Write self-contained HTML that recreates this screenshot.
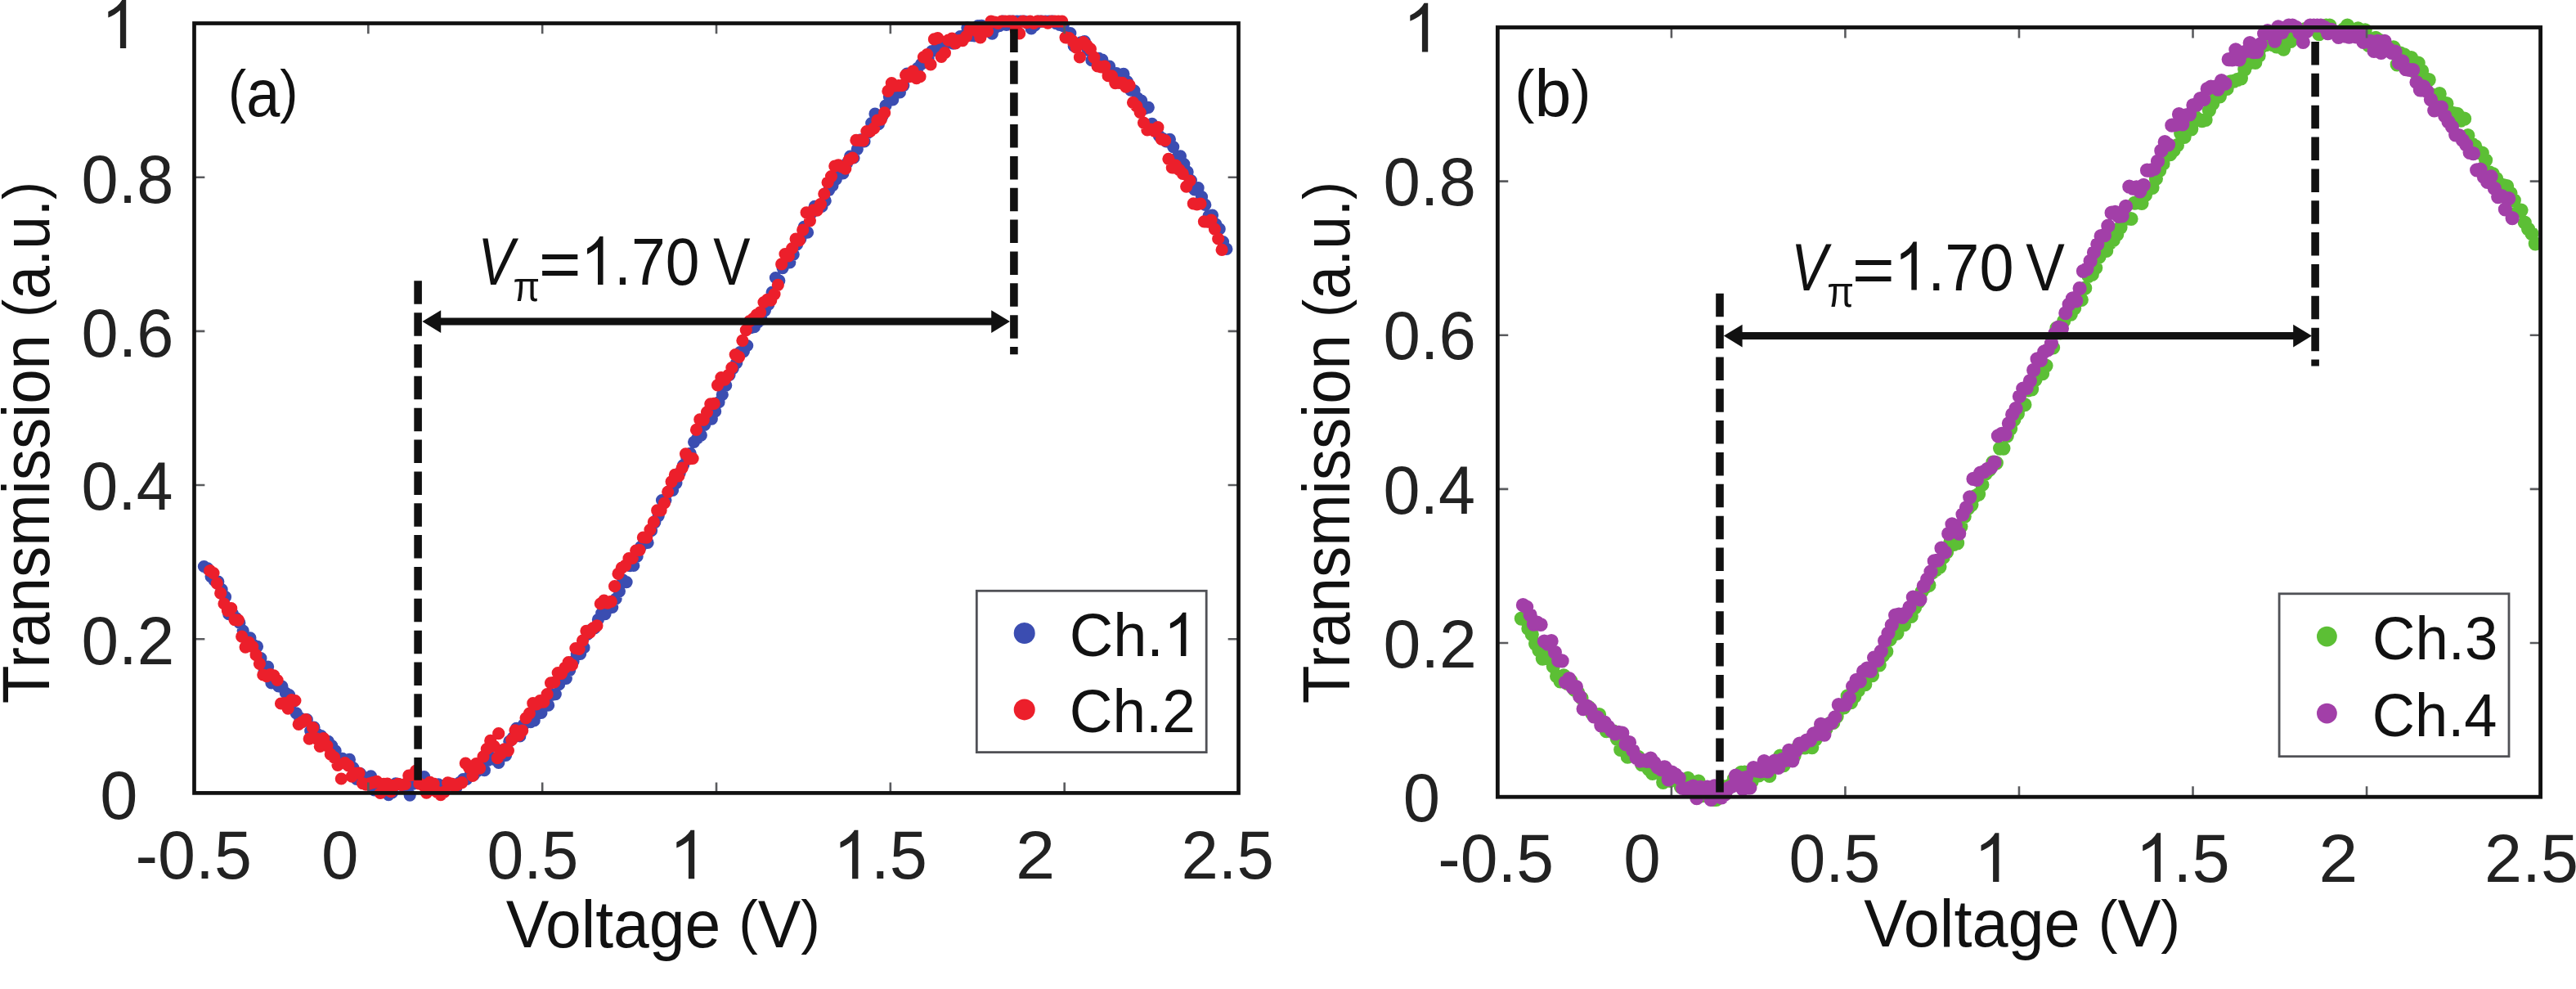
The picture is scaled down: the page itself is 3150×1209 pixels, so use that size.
<!DOCTYPE html>
<html lang="en"><head><meta charset="utf-8"><title>Transmission vs Voltage</title>
<style>html,body{margin:0;padding:0;background:#fff;}svg{display:block;}</style></head>
<body>
<svg width="3150" height="1209" viewBox="0 0 3150 1209" font-family="'Liberation Sans', sans-serif">
<rect width="3150" height="1209" fill="#ffffff"/>
<path d="M249.4 692.5h0M253.8 694.9h0M258.1 704.8h0M262.4 709.7h0M266.8 711.1h0M271.1 720.7h0M275.5 729.7h0M279.8 750.7h0M284.2 749.9h0M288.5 755.4h0M292.8 761.2h0M297.2 771.0h0M301.5 780.6h0M305.9 779.9h0M310.2 788.5h0M314.5 790.3h0M318.9 804.7h0M323.2 820.6h0M327.6 815.1h0M331.9 834.8h0M336.3 830.9h0M340.6 838.8h0M344.9 839.1h0M349.3 847.0h0M353.6 849.7h0M358.0 858.2h0M362.3 871.8h0M366.6 877.5h0M371.0 880.3h0M375.3 879.7h0M379.7 893.6h0M384.0 889.2h0M388.4 897.6h0M392.7 899.5h0M397.0 904.9h0M401.4 906.3h0M405.7 911.7h0M410.1 917.9h0M414.4 930.1h0M418.7 927.3h0M423.1 933.4h0M427.4 928.4h0M431.8 938.5h0M436.1 952.4h0M440.5 945.5h0M444.8 950.0h0M449.1 958.2h0M453.5 948.9h0M457.8 965.9h0M462.2 958.9h0M466.5 959.6h0M470.9 958.6h0M475.2 971.6h0M479.5 968.8h0M483.9 957.8h0M488.2 958.9h0M492.6 960.4h0M496.9 964.5h0M501.2 972.1h0M505.6 958.1h0M509.9 956.2h0M514.3 957.2h0M518.6 949.5h0M523.0 959.8h0M527.3 959.2h0M531.6 959.2h0M536.0 958.8h0M540.3 965.1h0M544.7 960.2h0M549.0 959.4h0M553.3 958.5h0M557.7 963.5h0M562.0 956.6h0M566.4 952.6h0M570.7 952.5h0M575.1 947.0h0M579.4 947.1h0M583.7 942.6h0M588.1 934.7h0M592.4 941.7h0M596.8 929.3h0M601.1 926.4h0M605.4 928.6h0M609.8 932.5h0M614.1 917.1h0M618.5 923.4h0M622.8 906.3h0M627.2 901.9h0M631.5 890.4h0M635.8 899.9h0M640.2 886.2h0M644.5 880.5h0M648.9 882.7h0M653.2 880.9h0M657.5 872.3h0M661.9 871.5h0M666.2 862.2h0M670.6 862.2h0M674.9 849.5h0M679.3 848.6h0M683.6 836.7h0M687.9 830.2h0M692.3 829.5h0M696.6 819.4h0M701.0 808.6h0M705.3 799.3h0M709.6 799.4h0M714.0 791.7h0M718.3 775.4h0M722.7 769.9h0M727.0 767.8h0M731.4 757.4h0M735.7 749.6h0M740.0 750.6h0M744.4 740.5h0M748.7 742.5h0M753.1 732.0h0M757.4 722.8h0M761.8 709.2h0M766.1 711.6h0M770.4 691.6h0M774.8 691.4h0M779.1 680.2h0M783.5 668.5h0M787.8 661.0h0M792.1 663.4h0M796.5 648.7h0M800.8 638.6h0M805.2 630.6h0M809.5 611.5h0M813.9 611.3h0M818.2 600.7h0M822.5 599.5h0M826.9 590.6h0M831.2 578.1h0M835.6 568.5h0M839.9 559.9h0M844.2 554.3h0M848.6 540.3h0M852.9 535.7h0M857.3 532.1h0M861.6 519.4h0M866.0 510.7h0M870.3 512.1h0M874.6 502.9h0M879.0 491.7h0M883.3 482.4h0M887.7 471.1h0M892.0 458.3h0M896.3 450.3h0M900.7 443.6h0M905.0 430.5h0M909.4 429.6h0M913.7 422.5h0M918.1 400.6h0M922.4 399.7h0M926.7 393.8h0M931.1 390.4h0M935.4 379.6h0M939.8 372.1h0M944.1 357.3h0M948.4 339.5h0M952.8 343.1h0M957.1 327.6h0M961.5 321.7h0M965.8 320.8h0M970.2 311.1h0M974.5 298.9h0M978.8 291.9h0M983.2 277.4h0M987.5 284.2h0M991.9 260.7h0M996.2 252.3h0M1000.6 251.9h0M1004.9 252.5h0M1009.2 245.4h0M1013.6 232.4h0M1017.9 226.9h0M1022.3 219.1h0M1026.6 210.8h0M1030.9 211.8h0M1035.3 200.2h0M1039.6 191.2h0M1044.0 193.0h0M1048.3 182.3h0M1052.7 170.8h0M1057.0 172.9h0M1061.3 162.3h0M1065.7 150.5h0M1070.0 139.2h0M1074.4 151.7h0M1078.7 142.6h0M1083.0 129.0h0M1087.4 118.2h0M1091.7 121.8h0M1096.1 109.7h0M1100.4 113.0h0M1104.8 104.6h0M1109.1 90.2h0M1113.4 91.1h0M1117.8 92.6h0M1122.1 83.4h0M1126.5 78.4h0M1130.8 71.2h0M1135.1 71.4h0M1139.5 62.7h0M1143.8 60.8h0M1148.2 52.4h0M1152.5 52.9h0M1156.9 53.2h0M1161.2 50.0h0M1165.5 53.1h0M1169.9 51.1h0M1174.2 44.5h0M1178.6 43.9h0M1182.9 33.9h0M1187.2 43.3h0M1191.6 43.9h0M1195.9 31.6h0M1200.3 31.3h0M1204.6 33.4h0M1209.0 31.9h0M1213.3 41.1h0M1217.6 33.4h0M1222.0 31.7h0M1226.3 26.1h0M1230.7 30.4h0M1235.0 26.1h0M1239.3 26.1h0M1243.7 26.1h0M1248.0 26.1h0M1252.4 26.1h0M1256.7 28.3h0M1261.1 34.8h0M1265.4 31.0h0M1269.7 26.1h0M1274.1 26.1h0M1278.4 26.1h0M1282.8 26.1h0M1287.1 26.1h0M1291.5 28.6h0M1295.8 30.5h0M1300.1 31.6h0M1304.5 45.1h0M1308.8 40.5h0M1313.2 56.2h0M1317.5 53.6h0M1321.8 51.9h0M1326.2 50.5h0M1330.5 61.5h0M1334.9 73.7h0M1339.2 72.0h0M1343.6 71.3h0M1347.9 73.2h0M1352.2 82.0h0M1356.6 81.1h0M1360.9 91.3h0M1365.3 89.6h0M1369.6 101.1h0M1373.9 90.4h0M1378.3 99.5h0M1382.6 110.2h0M1387.0 110.8h0M1391.3 120.0h0M1395.7 123.0h0M1400.0 132.7h0M1404.3 131.3h0M1408.7 151.3h0M1413.0 159.5h0M1417.4 166.1h0M1421.7 169.4h0M1426.0 172.8h0M1430.4 170.3h0M1434.7 179.6h0M1439.1 193.1h0M1443.4 190.8h0M1447.8 200.6h0M1452.1 210.2h0M1456.4 220.6h0M1460.8 232.0h0M1465.1 229.7h0M1469.5 240.7h0M1473.8 250.4h0M1478.1 263.9h0M1482.5 263.1h0M1486.8 274.0h0M1491.2 279.9h0M1495.5 295.5h0M1499.9 304.4h0" stroke="#3b4db1" stroke-width="15.2" stroke-linecap="round" fill="none"/>
<path d="M256.7 697.7h0M261.0 700.6h0M265.3 713.2h0M269.7 725.2h0M274.0 738.0h0M278.4 746.6h0M282.7 743.7h0M287.0 757.6h0M291.4 758.2h0M295.7 778.2h0M300.1 791.1h0M304.4 785.4h0M308.8 790.6h0M313.1 800.7h0M317.4 811.3h0M321.8 825.0h0M326.1 826.7h0M330.5 824.5h0M334.8 825.9h0M339.1 831.5h0M343.5 860.0h0M347.8 859.5h0M352.2 866.1h0M356.5 855.7h0M360.9 856.5h0M365.2 885.4h0M369.5 882.6h0M373.9 879.5h0M378.2 903.2h0M382.6 889.7h0M386.9 902.9h0M391.3 912.4h0M395.6 902.6h0M399.9 911.7h0M404.3 922.2h0M408.6 925.8h0M413.0 935.3h0M417.3 952.0h0M421.6 932.7h0M426.0 935.8h0M430.3 949.1h0M434.7 945.3h0M439.0 945.1h0M443.4 957.6h0M447.7 959.2h0M452.0 957.8h0M456.4 956.7h0M460.7 955.4h0M465.1 969.5h0M469.4 958.4h0M473.7 958.2h0M478.1 967.6h0M482.4 960.2h0M486.8 958.3h0M491.1 959.5h0M495.5 958.7h0M499.8 948.0h0M504.1 947.4h0M508.5 942.3h0M512.8 958.0h0M517.2 959.8h0M521.5 969.2h0M525.8 956.4h0M530.2 958.0h0M534.5 968.2h0M538.9 971.7h0M543.2 968.2h0M547.6 956.9h0M551.9 958.0h0M556.2 961.5h0M560.6 958.6h0M564.9 956.6h0M569.3 933.1h0M573.6 938.5h0M577.9 948.5h0M582.3 933.6h0M586.6 939.1h0M591.0 924.9h0M595.3 915.7h0M599.7 905.4h0M604.0 912.2h0M608.3 926.7h0M612.7 921.4h0M617.0 915.9h0M621.4 917.6h0M625.7 904.5h0M630.0 892.8h0M634.4 899.0h0M638.7 893.1h0M643.1 877.8h0M647.4 872.1h0M651.8 859.7h0M656.1 860.9h0M660.4 856.7h0M664.8 858.2h0M669.1 848.7h0M673.5 834.8h0M677.8 834.0h0M682.2 822.5h0M686.5 823.4h0M690.8 816.3h0M695.2 809.7h0M699.5 812.9h0M703.9 792.5h0M708.2 793.3h0M712.5 783.2h0M716.9 771.3h0M721.2 773.2h0M725.6 767.6h0M729.9 764.9h0M734.3 738.0h0M738.6 734.1h0M742.9 737.1h0M747.3 735.3h0M751.6 716.7h0M756.0 701.4h0M760.3 694.1h0M764.6 691.3h0M769.0 682.7h0M773.3 682.4h0M777.7 673.0h0M782.0 672.4h0M786.4 657.0h0M790.7 657.1h0M795.0 647.6h0M799.4 638.2h0M803.7 623.9h0M808.1 623.8h0M812.4 615.0h0M816.7 601.3h0M821.1 588.8h0M825.4 580.4h0M829.8 582.0h0M834.1 572.1h0M838.5 554.8h0M842.8 561.0h0M847.1 560.5h0M851.5 525.4h0M855.8 512.8h0M860.2 513.5h0M864.5 503.8h0M868.8 493.8h0M873.2 493.4h0M877.5 470.8h0M881.9 461.5h0M886.2 464.2h0M890.6 458.6h0M894.9 449.7h0M899.2 433.6h0M903.6 436.3h0M907.9 416.3h0M912.3 403.6h0M916.6 392.7h0M921.0 389.6h0M925.3 384.8h0M929.6 381.8h0M934.0 369.5h0M938.3 366.3h0M942.7 367.2h0M947.0 359.6h0M951.3 348.4h0M955.7 322.9h0M960.0 310.5h0M964.4 313.0h0M968.7 303.5h0M973.1 292.1h0M977.4 293.9h0M981.7 281.2h0M986.1 259.8h0M990.4 269.8h0M994.8 256.9h0M999.1 257.2h0M1003.4 249.6h0M1007.8 237.0h0M1012.1 223.0h0M1016.5 215.6h0M1020.8 203.0h0M1025.2 201.8h0M1029.5 204.0h0M1033.8 206.2h0M1038.2 195.5h0M1042.5 193.0h0M1046.9 171.4h0M1051.2 171.7h0M1055.5 171.8h0M1059.9 160.5h0M1064.2 160.5h0M1068.6 156.8h0M1072.9 147.2h0M1077.3 146.1h0M1081.6 137.9h0M1085.9 111.4h0M1090.3 101.5h0M1094.6 104.8h0M1099.0 104.6h0M1103.3 104.3h0M1107.6 91.9h0M1112.0 93.7h0M1116.3 87.1h0M1120.7 95.7h0M1125.0 93.7h0M1129.4 69.8h0M1133.7 66.5h0M1138.0 78.9h0M1142.4 47.9h0M1146.7 46.5h0M1151.1 69.4h0M1155.4 64.7h0M1159.7 49.1h0M1164.1 47.0h0M1168.4 52.8h0M1172.8 49.5h0M1177.1 49.6h0M1181.5 44.7h0M1185.8 36.3h0M1190.1 35.8h0M1194.5 38.2h0M1198.8 46.0h0M1203.2 34.3h0M1207.5 38.1h0M1211.9 26.1h0M1216.2 27.0h0M1220.5 28.5h0M1224.9 26.1h0M1229.2 26.1h0M1233.6 26.1h0M1237.9 26.1h0M1242.2 36.9h0M1246.6 40.9h0M1250.9 26.1h0M1255.3 27.6h0M1259.6 26.1h0M1264.0 28.4h0M1268.3 26.1h0M1272.6 26.1h0M1277.0 26.5h0M1281.3 28.1h0M1285.7 26.1h0M1290.0 26.1h0M1294.3 26.1h0M1298.7 26.1h0M1303.0 45.8h0M1307.4 46.5h0M1311.7 50.3h0M1316.1 58.1h0M1320.4 69.9h0M1324.7 51.6h0M1329.1 55.7h0M1333.4 59.9h0M1337.8 70.1h0M1342.1 80.9h0M1346.4 81.8h0M1350.8 81.2h0M1355.1 92.7h0M1359.5 92.9h0M1363.8 101.6h0M1368.2 101.2h0M1372.5 101.4h0M1376.8 106.2h0M1381.2 104.3h0M1385.5 125.3h0M1389.9 129.8h0M1394.2 137.5h0M1398.5 150.1h0M1402.9 159.0h0M1407.2 158.2h0M1411.6 160.1h0M1415.9 155.7h0M1420.3 170.2h0M1424.6 171.7h0M1428.9 194.3h0M1433.3 204.9h0M1437.6 202.2h0M1442.0 207.6h0M1446.3 212.4h0M1450.7 228.1h0M1455.0 221.0h0M1459.3 248.8h0M1463.7 249.8h0M1468.0 249.0h0M1472.4 270.8h0M1476.7 271.2h0M1481.0 269.1h0M1485.4 280.1h0M1489.7 291.9h0M1494.1 305.4h0M609.7 896.7h0" stroke="#ec1f2b" stroke-width="15.2" stroke-linecap="round" fill="none"/>
<path d="M1860.3 756.1h0M1864.6 756.4h0M1868.9 768.4h0M1873.3 775.5h0M1877.6 787.1h0M1881.9 794.8h0M1886.3 805.1h0M1890.6 795.7h0M1894.9 803.0h0M1899.3 814.6h0M1903.6 826.7h0M1908.0 832.8h0M1912.3 825.8h0M1916.6 835.5h0M1921.0 832.6h0M1925.3 843.2h0M1929.6 846.7h0M1934.0 853.3h0M1938.3 862.9h0M1942.6 864.4h0M1947.0 872.5h0M1951.3 873.6h0M1955.6 873.6h0M1960.0 887.1h0M1964.3 893.6h0M1968.7 893.2h0M1973.0 893.8h0M1977.3 903.1h0M1981.7 916.3h0M1986.0 914.0h0M1990.3 925.2h0M1994.7 923.6h0M1999.0 924.1h0M2003.3 925.3h0M2007.7 934.6h0M2012.0 934.9h0M2016.3 940.3h0M2020.7 945.5h0M2025.0 944.2h0M2029.4 944.1h0M2033.7 956.3h0M2038.0 953.8h0M2042.4 954.3h0M2046.7 948.0h0M2051.0 954.2h0M2055.4 962.0h0M2059.7 953.4h0M2064.0 951.3h0M2068.4 965.4h0M2072.7 966.7h0M2077.0 955.1h0M2081.4 972.7h0M2085.7 966.1h0M2090.1 967.0h0M2094.4 977.5h0M2098.7 977.5h0M2103.1 973.3h0M2107.4 961.5h0M2111.7 964.8h0M2116.1 959.5h0M2120.4 952.2h0M2124.7 956.9h0M2129.1 944.4h0M2133.4 944.1h0M2137.8 951.9h0M2142.1 955.3h0M2146.4 944.2h0M2150.8 947.9h0M2155.1 943.3h0M2159.4 941.5h0M2163.8 948.4h0M2168.1 935.0h0M2172.4 934.6h0M2176.8 924.2h0M2181.1 935.6h0M2185.4 923.0h0M2189.8 922.3h0M2194.1 923.9h0M2198.5 913.7h0M2202.8 913.7h0M2207.1 913.8h0M2211.5 906.9h0M2215.8 913.6h0M2220.1 904.0h0M2224.5 893.5h0M2228.8 893.2h0M2233.1 890.8h0M2237.5 884.3h0M2241.8 883.3h0M2246.1 875.9h0M2250.5 864.2h0M2254.8 864.8h0M2259.2 850.9h0M2263.5 858.6h0M2267.8 851.3h0M2272.2 844.2h0M2276.5 837.0h0M2280.8 836.6h0M2285.2 825.2h0M2289.5 825.6h0M2293.8 810.6h0M2298.2 813.0h0M2302.5 801.4h0M2306.8 796.3h0M2311.2 781.7h0M2315.5 775.9h0M2319.9 774.1h0M2324.2 762.7h0M2328.5 763.6h0M2332.9 754.6h0M2337.2 753.3h0M2341.5 742.9h0M2345.9 735.8h0M2350.2 723.0h0M2354.5 717.6h0M2358.9 715.3h0M2363.2 699.6h0M2367.6 696.5h0M2371.9 693.1h0M2376.2 681.5h0M2380.6 675.0h0M2384.9 662.7h0M2389.2 665.5h0M2393.6 663.9h0M2397.9 643.6h0M2402.2 631.3h0M2406.6 621.5h0M2410.9 617.1h0M2415.2 606.5h0M2419.6 604.1h0M2423.9 592.5h0M2428.3 578.8h0M2432.6 574.5h0M2436.9 565.0h0M2441.3 565.9h0M2445.6 548.1h0M2449.9 548.1h0M2454.3 532.8h0M2458.6 524.1h0M2462.9 513.1h0M2467.3 505.8h0M2471.6 496.3h0M2475.9 494.7h0M2480.3 476.9h0M2484.6 475.8h0M2489.0 464.1h0M2493.3 455.6h0M2497.6 456.7h0M2502.0 447.1h0M2506.3 425.8h0M2510.6 425.0h0M2515.0 401.1h0M2519.3 406.9h0M2523.6 392.5h0M2528.0 384.6h0M2532.3 384.1h0M2536.6 376.9h0M2541.0 366.4h0M2545.3 366.5h0M2549.7 352.2h0M2554.0 337.3h0M2558.3 335.4h0M2562.7 327.3h0M2567.0 313.9h0M2571.3 303.3h0M2575.7 306.4h0M2580.0 297.1h0M2584.3 293.3h0M2588.7 286.6h0M2593.0 278.1h0M2597.4 266.7h0M2601.7 267.0h0M2606.0 267.5h0M2610.4 248.1h0M2614.7 246.9h0M2619.0 248.5h0M2623.4 238.4h0M2627.7 231.2h0M2632.0 229.3h0M2636.4 218.4h0M2640.7 208.3h0M2645.0 200.2h0M2649.4 189.2h0M2653.7 188.7h0M2658.1 183.6h0M2662.4 177.7h0M2666.7 163.1h0M2671.1 167.3h0M2675.4 155.8h0M2679.7 157.8h0M2684.1 142.9h0M2688.4 146.2h0M2692.7 147.6h0M2697.1 146.4h0M2701.4 135.0h0M2705.7 126.6h0M2710.1 114.8h0M2714.4 117.8h0M2718.8 100.4h0M2723.1 108.4h0M2727.4 99.9h0M2731.8 99.1h0M2736.1 97.3h0M2740.4 95.8h0M2744.8 84.8h0M2749.1 77.7h0M2753.4 75.5h0M2757.8 76.4h0M2762.1 68.2h0M2766.4 56.4h0M2770.8 54.7h0M2775.1 48.8h0M2779.5 54.7h0M2783.8 56.8h0M2788.1 54.6h0M2792.5 60.1h0M2796.8 47.0h0M2801.1 50.5h0M2805.5 38.8h0M2809.8 38.2h0M2814.1 44.9h0M2818.5 35.7h0M2822.8 35.9h0M2827.2 34.1h0M2831.5 36.2h0M2835.8 41.7h0M2840.2 33.8h0M2844.5 31.1h0M2848.8 31.1h0M2853.2 38.3h0M2857.5 39.8h0M2861.8 38.8h0M2866.2 35.7h0M2870.5 31.1h0M2874.8 40.9h0M2879.2 38.8h0M2883.5 34.9h0M2887.9 39.0h0M2892.2 36.9h0M2896.5 55.3h0M2900.9 49.6h0M2905.2 46.3h0M2909.5 49.1h0M2913.9 52.1h0M2918.2 56.6h0M2922.5 59.0h0M2926.9 57.9h0M2931.2 78.9h0M2935.5 65.2h0M2939.9 66.9h0M2944.2 80.2h0M2948.6 70.5h0M2952.9 87.8h0M2957.2 77.0h0M2961.6 86.7h0M2965.9 99.4h0M2970.2 97.6h0M2974.6 116.2h0M2978.9 117.9h0M2983.2 114.7h0M2987.6 135.0h0M2991.9 126.7h0M2996.2 137.4h0M3000.6 138.5h0M3004.9 139.3h0M3009.3 147.1h0M3013.6 145.2h0M3017.9 165.7h0M3022.3 175.7h0M3026.6 178.5h0M3030.9 186.4h0M3035.3 187.2h0M3039.6 195.8h0M3043.9 210.5h0M3048.3 212.6h0M3052.6 218.3h0M3057.0 227.1h0M3061.3 226.7h0M3065.6 227.5h0M3070.0 236.3h0M3074.3 244.9h0M3078.6 258.0h0M3083.0 257.1h0M3087.3 272.0h0M3091.6 280.0h0M3096.0 285.7h0M3100.3 297.9h0" stroke="#5cbf35" stroke-width="17.2" stroke-linecap="round" fill="none"/>
<path d="M1862.4 739.7h0M1866.7 742.1h0M1871.1 751.7h0M1875.4 763.1h0M1879.7 761.2h0M1884.1 763.5h0M1888.4 784.0h0M1892.7 787.2h0M1897.1 783.7h0M1901.4 797.3h0M1905.7 807.3h0M1910.1 807.9h0M1914.4 833.8h0M1918.7 829.5h0M1923.1 840.3h0M1927.4 839.5h0M1931.8 851.4h0M1936.1 866.6h0M1940.4 863.0h0M1944.8 866.5h0M1949.1 875.8h0M1953.4 876.9h0M1957.8 886.8h0M1962.1 883.1h0M1966.4 888.4h0M1970.8 893.3h0M1975.1 897.0h0M1979.4 895.3h0M1983.8 896.2h0M1988.1 909.7h0M1992.5 907.7h0M1996.8 917.7h0M2001.1 926.5h0M2005.5 930.2h0M2009.8 929.5h0M2014.1 930.5h0M2018.5 927.1h0M2022.8 932.3h0M2027.1 938.0h0M2031.5 940.7h0M2035.8 937.8h0M2040.2 953.0h0M2044.5 944.2h0M2048.8 946.8h0M2053.2 951.2h0M2057.5 963.4h0M2061.8 964.6h0M2066.2 963.0h0M2070.5 961.1h0M2074.8 975.6h0M2079.2 962.4h0M2083.5 964.2h0M2087.8 962.1h0M2092.2 977.5h0M2096.5 960.8h0M2100.9 964.8h0M2105.2 975.0h0M2109.5 971.0h0M2113.9 963.4h0M2118.2 961.0h0M2122.5 948.2h0M2126.9 950.5h0M2131.2 964.6h0M2135.5 950.3h0M2139.9 963.0h0M2144.2 938.7h0M2148.5 942.1h0M2152.9 942.8h0M2157.2 930.6h0M2161.6 943.0h0M2165.9 937.8h0M2170.2 930.0h0M2174.6 938.5h0M2178.9 928.7h0M2183.2 929.5h0M2187.6 917.3h0M2191.9 929.8h0M2196.2 917.7h0M2200.6 909.0h0M2204.9 910.5h0M2209.2 905.1h0M2213.6 904.9h0M2217.9 896.8h0M2222.3 897.5h0M2226.6 885.3h0M2230.9 898.1h0M2235.3 885.9h0M2239.6 883.3h0M2243.9 876.8h0M2248.3 861.5h0M2252.6 861.9h0M2256.9 861.1h0M2261.3 853.2h0M2265.6 839.0h0M2270.0 831.4h0M2274.3 833.0h0M2278.6 820.5h0M2283.0 817.2h0M2287.3 820.4h0M2291.6 804.0h0M2296.0 807.3h0M2300.3 796.1h0M2304.6 783.3h0M2309.0 774.1h0M2313.3 764.1h0M2317.6 752.1h0M2322.0 751.0h0M2326.3 754.5h0M2330.7 749.3h0M2335.0 742.4h0M2339.3 730.0h0M2343.7 730.9h0M2348.0 732.8h0M2352.3 716.3h0M2356.7 708.2h0M2361.0 698.9h0M2365.3 685.9h0M2369.7 684.8h0M2374.0 670.2h0M2378.3 674.9h0M2382.7 652.4h0M2387.0 640.8h0M2391.4 642.6h0M2395.7 652.2h0M2400.0 628.8h0M2404.4 620.7h0M2408.7 607.8h0M2413.0 585.4h0M2417.4 586.5h0M2421.7 578.0h0M2426.0 576.6h0M2430.4 573.3h0M2434.7 571.5h0M2439.0 565.2h0M2443.4 532.9h0M2447.7 530.4h0M2452.1 530.9h0M2456.4 517.6h0M2460.7 506.5h0M2465.1 499.3h0M2469.4 484.5h0M2473.7 475.1h0M2478.1 474.4h0M2482.4 465.6h0M2486.7 452.4h0M2491.1 438.9h0M2495.4 440.4h0M2499.8 429.8h0M2504.1 427.7h0M2508.4 419.8h0M2512.8 407.6h0M2517.1 400.2h0M2521.4 401.4h0M2525.8 382.7h0M2530.1 372.1h0M2534.4 364.9h0M2538.8 367.7h0M2543.1 352.5h0M2547.4 331.3h0M2551.8 328.9h0M2556.1 319.2h0M2560.5 308.5h0M2564.8 298.6h0M2569.1 288.7h0M2573.5 287.7h0M2577.8 276.2h0M2582.1 260.2h0M2586.5 259.3h0M2590.8 264.4h0M2595.1 264.0h0M2599.5 252.4h0M2603.8 228.2h0M2608.1 230.1h0M2612.5 228.8h0M2616.8 233.9h0M2621.2 226.3h0M2625.5 208.2h0M2629.8 208.1h0M2634.2 206.5h0M2638.5 197.2h0M2642.8 184.2h0M2647.2 173.7h0M2651.5 176.8h0M2655.8 153.2h0M2660.2 152.3h0M2664.5 139.7h0M2668.8 151.8h0M2673.2 140.8h0M2677.5 139.8h0M2681.9 128.6h0M2686.2 128.1h0M2690.5 120.7h0M2694.9 121.4h0M2699.2 108.7h0M2703.5 106.1h0M2707.9 106.4h0M2712.2 109.1h0M2716.5 98.6h0M2720.9 102.2h0M2725.2 72.6h0M2729.6 73.0h0M2733.9 60.8h0M2738.2 72.8h0M2742.6 64.2h0M2746.9 62.5h0M2751.2 52.6h0M2755.6 63.7h0M2759.9 63.4h0M2764.2 53.9h0M2768.6 41.1h0M2772.9 37.5h0M2777.2 41.5h0M2781.6 50.1h0M2785.9 32.9h0M2790.3 39.9h0M2794.6 33.7h0M2798.9 31.1h0M2803.3 31.1h0M2807.6 33.3h0M2811.9 40.2h0M2816.3 51.5h0M2820.6 38.4h0M2824.9 31.1h0M2829.3 31.1h0M2833.6 31.1h0M2837.9 31.1h0M2842.3 33.3h0M2846.6 40.6h0M2851.0 36.4h0M2855.3 39.6h0M2859.6 45.5h0M2864.0 43.1h0M2868.3 44.2h0M2872.6 45.2h0M2877.0 41.0h0M2881.3 44.8h0M2885.6 41.7h0M2890.0 51.5h0M2894.3 50.7h0M2898.6 50.4h0M2903.0 62.5h0M2907.3 50.4h0M2911.7 64.5h0M2916.0 50.3h0M2920.3 59.2h0M2924.7 64.5h0M2929.0 63.2h0M2933.3 77.0h0M2937.7 74.9h0M2942.0 84.7h0M2946.3 85.4h0M2950.7 85.6h0M2955.0 100.5h0M2959.4 109.9h0M2963.7 105.9h0M2968.0 111.6h0M2972.4 121.6h0M2976.7 135.0h0M2981.0 131.4h0M2985.4 131.1h0M2989.7 141.6h0M2994.0 148.9h0M2998.4 155.0h0M3002.7 164.8h0M3007.0 165.6h0M3011.4 171.3h0M3015.7 176.9h0M3020.1 186.3h0M3024.4 187.7h0M3028.7 207.9h0M3033.1 207.2h0M3037.4 216.3h0M3041.7 222.4h0M3046.1 215.8h0M3050.4 230.4h0M3054.7 240.6h0M3059.1 239.6h0M3063.4 255.9h0M3067.7 242.7h0M3072.1 266.6h0" stroke="#a23fa8" stroke-width="17.2" stroke-linecap="round" fill="none"/>
<path d="M450.33 28.5v12.85M450.33 969.4v-12.85M663.17 28.5v12.85M663.17 969.4v-12.85M876.00 28.5v12.85M876.00 969.4v-12.85M1088.83 28.5v12.85M1088.83 969.4v-12.85M1301.67 28.5v12.85M1301.67 969.4v-12.85M237.5 781.22h12.85M1514.5 781.22h-12.85M237.5 593.04h12.85M1514.5 593.04h-12.85M237.5 404.86h12.85M1514.5 404.86h-12.85M237.5 216.68h12.85M1514.5 216.68h-12.85" stroke="#5a5b5e" stroke-width="2.6" fill="none"/><rect x="237.5" y="28.5" width="1277.00" height="940.90" fill="none" stroke="#111111" stroke-width="4.7"/>
<path d="M2043.89 33.5v12.9M2043.89 974.2v-12.9M2256.43 33.5v12.9M2256.43 974.2v-12.9M2468.97 33.5v12.9M2468.97 974.2v-12.9M2681.52 33.5v12.9M2681.52 974.2v-12.9M2894.06 33.5v12.9M2894.06 974.2v-12.9M1831.35 786.06h12.9M3106.6 786.06h-12.9M1831.35 597.92h12.9M3106.6 597.92h-12.9M1831.35 409.78h12.9M3106.6 409.78h-12.9M1831.35 221.64h12.9M3106.6 221.64h-12.9" stroke="#5a5b5e" stroke-width="2.6" fill="none"/><rect x="1831.35" y="33.5" width="1275.25" height="940.70" fill="none" stroke="#111111" stroke-width="4.8"/>
<line x1="511.1" y1="343.3" x2="511.1" y2="953.7" stroke="#111111" stroke-width="9.6" stroke-dasharray="28.5 10.35"/>
<line x1="1239.9" y1="35.5" x2="1239.9" y2="433.3" stroke="#111111" stroke-width="9.6" stroke-dasharray="28.5 10.35"/>
<line x1="2103.0" y1="358.7" x2="2103.0" y2="968.6" stroke="#111111" stroke-width="9.6" stroke-dasharray="28.5 10.35"/>
<line x1="2831.1" y1="51.0" x2="2831.1" y2="447.6" stroke="#111111" stroke-width="9.6" stroke-dasharray="28.5 10.35"/>
<line x1="537.1999999999999" y1="393.1" x2="1214.2" y2="393.1" stroke="#111111" stroke-width="9.0"/><path d="M516.4 393.1L539.1999999999999 379.20000000000005V407.0ZM1235.0 393.1L1212.2 379.20000000000005V407.0Z" fill="#111111"/>
<line x1="2128.6000000000004" y1="410.6" x2="2806.2" y2="410.6" stroke="#111111" stroke-width="9.0"/><path d="M2107.8 410.6L2130.6000000000004 396.70000000000005V424.5ZM2827.0 410.6L2804.2 396.70000000000005V424.5Z" fill="#111111"/>
<rect x="1194.3" y="722.3" width="280.90" height="197.30" fill="#ffffff" stroke="#505156" stroke-width="2.8"/><circle cx="1252.7" cy="774.0" r="13" fill="#3b4db1"/><circle cx="1252.7" cy="867.4" r="13" fill="#ec1f2b"/>
<rect x="2787.1" y="725.8" width="280.90" height="198.90" fill="#ffffff" stroke="#505156" stroke-width="2.8"/><circle cx="2845.4" cy="778.1" r="12.4" fill="#5cbf35"/><circle cx="2845.4" cy="872.1" r="12.4" fill="#a23fa8"/>
<path transform="translate(1018.48 1074.30) scale(0.04053 -0.04053)" d="M763 0H583V1147Q518 1085 412.5 1023T223 930V1104Q374 1175 487 1276T647 1472H763Z" fill="#222222"/>
<path transform="translate(2611.18 1078.00) scale(0.04053 -0.04053)" d="M763 0H583V1147Q518 1085 412.5 1023T223 930V1104Q374 1175 487 1276T647 1472H763Z" fill="#222222"/>
<text transform="translate(99.57 247.80) scale(0.9778 1)" font-size="83" fill="#222222">0.8</text>
<text transform="translate(99.57 436.20) scale(0.9778 1)" font-size="83" fill="#222222">0.6</text>
<text transform="translate(99.59 623.40) scale(0.9690 1)" font-size="83" fill="#222222">0.4</text>
<text transform="translate(99.54 812.30) scale(0.9869 1)" font-size="83" fill="#222222">0.2</text>
<text transform="translate(122.30 1000.70) scale(1.0000 1)" font-size="83" fill="#222222">0</text>
<text transform="translate(165.51 1074.30) scale(0.9966 1)" font-size="83" fill="#222222">-0.5</text>
<text transform="translate(392.94 1074.30) scale(0.9850 1)" font-size="83" fill="#222222">0</text>
<text transform="translate(595.49 1074.30) scale(0.9696 1)" font-size="83" fill="#222222">0.5</text>
<text transform="translate(1064.64 1074.30) scale(1.0000 1)" font-size="83" fill="#222222">.5</text>
<text transform="translate(1242.12 1074.30) scale(1.0447 1)" font-size="83" fill="#222222">2</text>
<text transform="translate(1444.47 1074.30) scale(0.9823 1)" font-size="83" fill="#222222">2.5</text>
<text transform="translate(1691.45 251.20) scale(0.9833 1)" font-size="83" fill="#222222">0.8</text>
<text transform="translate(1691.45 439.30) scale(0.9833 1)" font-size="83" fill="#222222">0.6</text>
<text transform="translate(1691.48 627.60) scale(0.9744 1)" font-size="83" fill="#222222">0.4</text>
<text transform="translate(1691.42 815.80) scale(0.9924 1)" font-size="83" fill="#222222">0.2</text>
<text transform="translate(1715.66 1004.30) scale(0.9800 1)" font-size="83" fill="#222222">0</text>
<text transform="translate(1758.23 1078.00) scale(0.9915 1)" font-size="83" fill="#222222">-0.5</text>
<text transform="translate(1985.25 1078.00) scale(0.9850 1)" font-size="83" fill="#222222">0</text>
<text transform="translate(2187.49 1078.00) scale(0.9696 1)" font-size="83" fill="#222222">0.5</text>
<text transform="translate(2657.34 1078.00) scale(1.0000 1)" font-size="83" fill="#222222">.5</text>
<text transform="translate(2835.46 1078.00) scale(1.0342 1)" font-size="83" fill="#222222">2</text>
<text transform="translate(3038.02 1078.00) scale(0.9961 1)" font-size="83" fill="#222222">2.5</text>
<text transform="translate(618.80 1157.70) scale(0.9716 1)" xml:space="preserve" fill="#111111"><tspan font-size="81">Voltage </tspan><tspan font-size="73" dy="-6">(</tspan><tspan font-size="81" dy="6">V</tspan><tspan font-size="73" dy="-6">)</tspan></text>
<text transform="translate(2279.20 1157.40) scale(0.9788 1)" xml:space="preserve" fill="#111111"><tspan font-size="81">Voltage </tspan><tspan font-size="73" dy="-6">(</tspan><tspan font-size="81" dy="6">V</tspan><tspan font-size="73" dy="-6">)</tspan></text>
<text transform="translate(59.70 860.24) rotate(-90) scale(0.9432 1)" font-size="81" fill="#111111">Transmission</text>
<text transform="translate(59.70 387.81) rotate(-90) scale(0.9030 1)" xml:space="preserve" fill="#111111"><tspan font-size="73" dy="-6">(</tspan><tspan font-size="81" dy="6">a.u.</tspan><tspan font-size="73" dy="-6">)</tspan></text>
<text transform="translate(1650.40 860.24) rotate(-90) scale(0.9432 1)" font-size="81" fill="#111111">Transmission</text>
<text transform="translate(1650.40 387.81) rotate(-90) scale(0.9030 1)" xml:space="preserve" fill="#111111"><tspan font-size="73" dy="-6">(</tspan><tspan font-size="81" dy="6">a.u.</tspan><tspan font-size="73" dy="-6">)</tspan></text>
<text transform="translate(279.05 141.80) scale(0.9115 1)" xml:space="preserve" fill="#111111"><tspan font-size="73" dy="-6">(</tspan><tspan font-size="81" dy="6">a</tspan><tspan font-size="73" dy="-6">)</tspan></text>
<text transform="translate(1852.22 141.80) scale(0.9958 1)" xml:space="preserve" fill="#111111"><tspan font-size="73" dy="-6">(</tspan><tspan font-size="81" dy="6">b</tspan><tspan font-size="73" dy="-6">)</tspan></text>
<text transform="translate(584.52 348.00) scale(0.8109 1)" font-size="82" font-style="italic" fill="#111111">V</text>
<text transform="translate(627.38 367.60) scale(0.9094 1)" font-size="52" fill="#111111">π</text>
<text transform="translate(658.66 351.00) scale(1.0850 1)" font-size="82" fill="#111111">=</text>
<text transform="translate(751.10 348.00) scale(0.9149 1)" font-size="82" fill="#111111">.70</text>
<text transform="translate(872.20 348.00) scale(0.8273 1)" font-size="82" fill="#111111">V</text>
<text transform="translate(2190.22 354.50) scale(0.8109 1)" font-size="82" font-style="italic" fill="#111111">V</text>
<text transform="translate(2234.37 375.10) scale(0.9156 1)" font-size="52" fill="#111111">π</text>
<text transform="translate(2264.74 357.50) scale(1.0900 1)" font-size="82" fill="#111111">=</text>
<text transform="translate(2357.34 354.50) scale(0.9235 1)" font-size="82" fill="#111111">.70</text>
<text transform="translate(2477.20 354.50) scale(0.8691 1)" font-size="82" fill="#111111">V</text>
<text transform="translate(1307.70 801.90) scale(1.0000 1)" font-size="74" fill="#111111">Ch.</text>
<text transform="translate(1307.74 895.30) scale(0.9856 1)" font-size="74" fill="#111111">Ch.2</text>
<text transform="translate(2901.06 806.40) scale(0.9803 1)" font-size="74" fill="#111111">Ch.3</text>
<text transform="translate(2900.87 900.20) scale(0.9765 1)" font-size="74" fill="#111111">Ch.4</text>
<path transform="translate(123.28 59.10) scale(0.04053 -0.04053)" d="M763 0H583V1147Q518 1085 412.5 1023T223 930V1104Q374 1175 487 1276T647 1472H763Z" fill="#222222"/>
<path transform="translate(818.28 1074.30) scale(0.04053 -0.04053)" d="M763 0H583V1147Q518 1085 412.5 1023T223 930V1104Q374 1175 487 1276T647 1472H763Z" fill="#222222"/>
<path transform="translate(1715.28 63.40) scale(0.04053 -0.04053)" d="M763 0H583V1147Q518 1085 412.5 1023T223 930V1104Q374 1175 487 1276T647 1472H763Z" fill="#222222"/>
<path transform="translate(2413.48 1078.00) scale(0.04053 -0.04053)" d="M763 0H583V1147Q518 1085 412.5 1023T223 930V1104Q374 1175 487 1276T647 1472H763Z" fill="#222222"/>
<path transform="translate(710.01 348.00) scale(0.03604 -0.04004)" d="M763 0H583V1147Q518 1085 412.5 1023T223 930V1104Q374 1175 487 1276T647 1472H763Z" fill="#111111"/>
<path transform="translate(2316.31 354.50) scale(0.03604 -0.04004)" d="M763 0H583V1147Q518 1085 412.5 1023T223 930V1104Q374 1175 487 1276T647 1472H763Z" fill="#111111"/>
<path transform="translate(1422.83 801.90) scale(0.03613 -0.03613)" d="M763 0H583V1147Q518 1085 412.5 1023T223 930V1104Q374 1175 487 1276T647 1472H763Z" fill="#111111"/>
</svg>
</body></html>
